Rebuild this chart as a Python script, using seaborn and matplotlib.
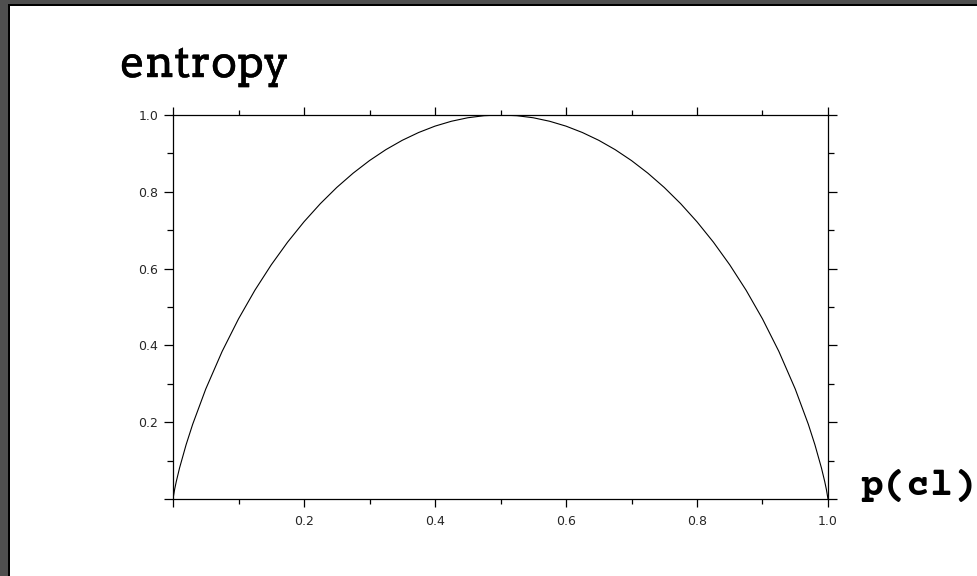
import matplotlib
matplotlib.use("Agg")
import matplotlib.pyplot as plt
import matplotlib.patches as mpatches
import matplotlib.patheffects as pe
from matplotlib import font_manager
from matplotlib.ticker import MultipleLocator, FixedLocator
import seaborn as sns
import pandas as pd

# Binary entropy curve, sampled densely near the steep ends
p_cl = [0.0, 0.0025, 0.005, 0.01, 0.02, 0.03, 0.05, 0.075, 0.1, 0.125, 0.15, 0.175,
        0.2, 0.225, 0.25, 0.275, 0.3, 0.325, 0.35, 0.375, 0.4, 0.425, 0.45, 0.475,
        0.5, 0.525, 0.55, 0.575, 0.6, 0.625, 0.65, 0.675, 0.7, 0.725, 0.75, 0.775,
        0.8, 0.825, 0.85, 0.875, 0.9, 0.925, 0.95, 0.97, 0.98, 0.99, 0.995, 0.9975, 1.0]
entropy = [0.0, 0.0252, 0.0454, 0.0808, 0.1414, 0.1944, 0.2864, 0.3843, 0.4690, 0.5436,
           0.6098, 0.6690, 0.7219, 0.7692, 0.8113, 0.8485, 0.8813, 0.9098, 0.9341, 0.9544,
           0.9710, 0.9837, 0.9928, 0.9982, 1.0, 0.9982, 0.9928, 0.9837, 0.9710, 0.9544,
           0.9341, 0.9098, 0.8813, 0.8485, 0.8113, 0.7692, 0.7219, 0.6690, 0.6098, 0.5436,
           0.4690, 0.3843, 0.2864, 0.1944, 0.1414, 0.0808, 0.0454, 0.0252, 0.0]

x_ticks = [0.0, 0.2, 0.4, 0.6, 0.8, 1.0]
x_tick_labels = ["", "0.2", "0.4", "0.6", "0.8", "1.0"]
y_ticks = [0.0, 0.2, 0.4, 0.6, 0.8, 1.0]
y_tick_labels = ["", "0.2", "0.4", "0.6", "0.8", "1.0"]


def first_font(names, weight="normal"):
    """Return the first family name that resolves to an installed font file."""
    for name in names:
        try:
            font_manager.findfont(font_manager.FontProperties(family=name, weight=weight),
                                  fallback_to_default=False)
            return name
        except Exception:
            continue
    return names[-1]


sns.set_style("ticks")
plt.rcParams["font.family"] = ["DejaVu Sans"]

slab = first_font(["Arvo", "Rokkitt", "Roboto Slab", "Zilla Slab", "DejaVu Serif"])
mono = first_font(["Courier Prime", "Cousine", "Liberation Mono", "DejaVu Sans Mono"],
                  weight="bold")

W, H = 977, 576
fig = plt.figure(figsize=(W / 100, H / 100), dpi=100, facecolor="white")

# dark frame along the left and top edges
fig.patches.append(mpatches.Rectangle((0, 0), 8 / W, 1, transform=fig.transFigure,
                                      facecolor="#4f4f4f", edgecolor="none", zorder=0))
fig.patches.append(mpatches.Rectangle((0, 1 - 4 / H), 1, 4 / H, transform=fig.transFigure,
                                      facecolor="#4f4f4f", edgecolor="none", zorder=0))
fig.patches.append(mpatches.Rectangle((8 / W, 0), 2 / W, 1 - 4 / H, transform=fig.transFigure,
                                      facecolor="#000000", edgecolor="none", zorder=0))
fig.patches.append(mpatches.Rectangle((8 / W, 1 - 6 / H), 1, 2 / H, transform=fig.transFigure,
                                      facecolor="#000000", edgecolor="none", zorder=0))

left, right, top, bottom = 173, 828, 115, 499
ax = fig.add_axes([left / W, 1 - bottom / H, (right - left) / W, (bottom - top) / H])

df = pd.DataFrame({"p": p_cl, "H": entropy})
sns.lineplot(data=df, x="p", y="H", ax=ax, color="black", linewidth=0.8, sort=False)

ax.set_xlim(0, 1)
ax.set_ylim(0, 1)
ax.set_xlabel("")
ax.set_ylabel("")
ax.xaxis.set_major_locator(FixedLocator(x_ticks))
ax.yaxis.set_major_locator(FixedLocator(y_ticks))
ax.set_xticklabels(x_tick_labels)
ax.set_yticklabels(y_tick_labels)
ax.xaxis.set_minor_locator(MultipleLocator(0.1))
ax.yaxis.set_minor_locator(MultipleLocator(0.1))

for s in ax.spines.values():
    s.set_visible(True)
    s.set_color("black")
    s.set_linewidth(0.9)

ax.tick_params(which="both", direction="out", top=True, right=True,
               color="black", width=0.9)
ax.tick_params(axis="x", which="major", length=5.5, pad=6, labelsize=9)
ax.tick_params(axis="x", which="minor", length=3.5)
ax.tick_params(axis="y", which="major", length=6.5, pad=4, labelsize=9)
ax.tick_params(axis="y", which="minor", length=4.5)

fig.text(120 / W, 1 - 77 / H, "entropy", family=[slab, "DejaVu Serif"], fontsize=31.5,
         ha="left", va="baseline", color="black",
         path_effects=[pe.withStroke(linewidth=0.3, foreground="black")])
fig.text(860 / W, 1 - 495 / H, "p(cl)", family=[mono, "DejaVu Sans Mono"],
         fontweight="bold", fontsize=28, ha="left", va="baseline", color="black")

fig.savefig("out.png", dpi=100, facecolor="white")
